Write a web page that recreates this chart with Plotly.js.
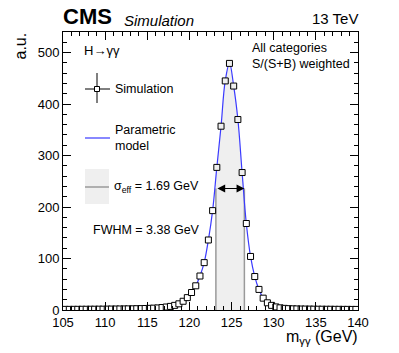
<!DOCTYPE html>
<html>
<head>
<meta charset="utf-8">
<script src="https://cdn.plot.ly/plotly-3.0.1.min.js"></script>
<style>
  html, body { margin:0; padding:0; background:#fff; }
  #plot { width:399px; height:353px; }
</style>
</head>
<body>
<div id="plot"></div>
<script>
// bin centres (0.5 GeV bins) and weighted simulation yields
const massBins = [
  105.25,105.75,106.25,106.75,107.25,107.75,108.25,108.75,109.25,109.75,
  110.25,110.75,111.25,111.75,112.25,112.75,113.25,113.75,114.25,114.75,
  115.25,115.75,116.25,116.75,117.25,117.75,118.25,118.75,119.25,119.75,
  120.25,120.75,121.25,121.75,122.25,122.75,123.25,123.75,124.25,124.75,
  125.25,125.75,126.25,126.75,127.25,127.75,128.25,128.75,129.25,129.75,
  130.25,130.75,131.25,131.75,132.25,132.75,133.25,133.75,134.25,134.75,
  135.25,135.75,136.25,136.75,137.25,137.75,138.25,138.75,139.25,139.75
];
const simYields = [
  1.2,1.2,1.3,1.3,1.4,1.4,1.5,1.5,1.6,1.6,
  1.7,1.8,1.9,2.0,2.1,2.2,2.3,2.5,2.7,2.9,
  3.2,3.6,4.0,4.8,5.8,7,9,12,17,24,
  34,47,66,92,136,193,277,357,445,479,
  435,370,267,168,104,65,40,23,14,9,
  6,4.2,3.2,2.6,2.3,2.1,1.9,1.8,1.7,1.6,
  1.5,1.5,1.4,1.4,1.3,1.3,1.2,1.2,1.1,1.1
];
const binHalfWidth = massBins.map(() => 0.25);

// sigma_eff window and half maximum
const effLo = 123.14;
const effHi = 126.52;
const halfMax = 236;
const bandX = [effLo, 123.25, 123.75, 124.25, 124.75, 125.25, 125.75, 126.25, effHi];
const bandY = [halfMax, 277, 357, 445, 479, 435, 370, 267, halfMax];

const BAND = '#efefef';
const BLUE = '#3a3aff';
const FONT = 'Liberation Sans, Arial, sans-serif';

// pixel -> paper helpers (plot area 63..358 x 32..310)
const PX = x => (x - 63) / 295;
const PY = y => (310 - y) / 278;

const band = {
  x: bandX, y: bandY, type:'scatter', mode:'lines',
  line:{ width:0, shape:'spline' }, fill:'tozeroy', fillcolor:BAND,
  hoverinfo:'skip', showlegend:false
};
const edges = {
  x:[effLo, effLo, null, effHi, effHi],
  y:[0, halfMax, null, halfMax, 0],
  type:'scatter', mode:'lines',
  line:{ color:'#9a9a9a', width:1.5 }, hoverinfo:'skip', showlegend:false
};
const model = {
  x: massBins, y: simYields, type:'scatter', mode:'lines',
  line:{ color:BLUE, width:1.2, shape:'spline', smoothing:1.1 }, showlegend:false
};
// hollow look: fill the square with whatever lies behind it
const markerFill = massBins.map(m => (m > effLo && m < effHi) ? BAND : '#fff');
const sim = {
  x: massBins, y: simYields, type:'scatter', mode:'markers',
  marker:{ symbol:'square', size:6, color:markerFill, line:{ width:1, color:'#000' } },
  error_x:{ type:'data', array: binHalfWidth, width:0, thickness:1, color:'#000' },
  error_y:{ type:'constant', value:2.5, width:0, thickness:1, color:'#000' },
  showlegend:false
};

const txt = (x, y, text, size, extra) => Object.assign({
  xref:'paper', yref:'paper', x:PX(x), y:PY(y), text:text, showarrow:false,
  xanchor:'left', yanchor:'middle',
  font:{ family:FONT, size:size, color:'#000' }
}, extra || {});

const annotations = [
  txt(61, 17, '<b>CMS</b>', 22),
  txt(122, 20, '<i>Simulation</i>', 15),
  txt(360, 18, '13 TeV', 15, { xanchor:'right' }),
  txt(20, 31, 'a.u.', 16, { textangle:-90, xanchor:'center', yanchor:'top' }),
  txt(360, 337, 'm<sub>γγ</sub> (GeV)', 16, { xanchor:'right' }),
  txt(82, 50, 'H→γγ', 13),
  txt(250, 48, 'All categories', 12.5),
  txt(250, 64, 'S/(S+B) weighted', 12.5),
  txt(113, 89, 'Simulation', 12.5),
  txt(113, 138, 'Parametric<br>model', 12.5, { align:'left' }),
  txt(112, 187, 'σ<sub>eff</sub> = 1.69 GeV', 12.5),
  txt(91, 230, 'FWHM = 3.38 GeV', 12.5),
  { x:effHi, y:halfMax, ax:effLo, ay:halfMax, xref:'x', yref:'y', axref:'x', ayref:'y',
    text:'', showarrow:true, arrowside:'end+start', arrowhead:2, arrowsize:1.3,
    arrowwidth:1.2, arrowcolor:'#000', standoff:0, startstandoff:0 }
];

const shapes = [
  // simulation marker symbol
  { type:'line', xref:'paper', yref:'paper', x0:PX(97), x1:PX(97), y0:PY(73), y1:PY(103), line:{ color:'#000', width:1 } },
  { type:'line', xref:'paper', yref:'paper', x0:PX(85), x1:PX(110), y0:PY(89), y1:PY(89), line:{ color:'#000', width:1 } },
  { type:'rect', xref:'paper', yref:'paper', x0:PX(94.5), x1:PX(99.5), y0:PY(91.5), y1:PY(86.5), fillcolor:'#fff', line:{ color:'#000', width:1 } },
  // parametric model symbol
  { type:'line', xref:'paper', yref:'paper', x0:PX(85), x1:PX(110), y0:PY(138), y1:PY(138), line:{ color:BLUE, width:1.2 } },
  // sigma_eff symbol
  { type:'rect', xref:'paper', yref:'paper', x0:PX(85), x1:PX(109), y0:PY(204), y1:PY(169), fillcolor:BAND, line:{ width:0 } },
  { type:'line', xref:'paper', yref:'paper', x0:PX(85), x1:PX(109), y0:PY(187), y1:PY(187), line:{ color:'#9a9a9a', width:1.5 } }
];

const axisBase = {
  showgrid:false, zeroline:false, showline:true, linecolor:'#000', linewidth:1,
  mirror:'ticks', ticks:'inside', ticklen:8, tickcolor:'#000', tickwidth:1,
  tickfont:{ family:FONT, size:13, color:'#000' }
};

const layout = {
  width:399, height:353,
  margin:{ l:63, r:41, t:32, b:43 },
  paper_bgcolor:'#fff', plot_bgcolor:'#fff',
  xaxis: Object.assign({}, axisBase, {
    range:[105,140], dtick:5, tick0:105,
    minor:{ dtick:1, ticks:'inside', ticklen:4, tickcolor:'#000', tickwidth:1 }
  }),
  yaxis: Object.assign({}, axisBase, {
    range:[0,540], dtick:100, tick0:0,
    minor:{ dtick:20, ticks:'inside', ticklen:4, tickcolor:'#000', tickwidth:1 }
  }),
  showlegend:false,
  annotations: annotations,
  shapes: shapes
};

Plotly.newPlot('plot', [band, edges, model, sim], layout, { displayModeBar:false, staticPlot:true });
</script>
</body>
</html>
